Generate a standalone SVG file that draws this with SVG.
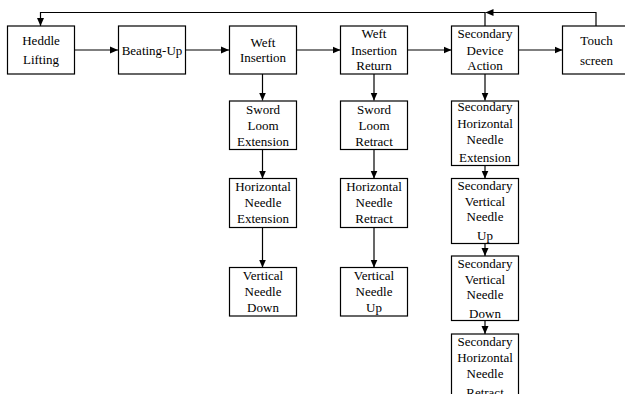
<svg xmlns="http://www.w3.org/2000/svg" width="625" height="394" viewBox="0 0 625 394">
<defs>
<marker id="ah" markerUnits="userSpaceOnUse" markerWidth="8" markerHeight="8" viewBox="0 0 8 8" refX="8" refY="4" orient="auto">
<path d="M0,0.5 L8,4 L0,7.5 Z" fill="#000"/>
</marker>
<style>
rect{fill:#fff;stroke:#000;stroke-width:1.2}
text{font-family:"Liberation Serif","Times New Roman",serif;font-size:13px;text-anchor:middle;fill:#000}
.c{fill:none;stroke:#000;stroke-width:1.2}
</style>
</defs>
<rect x="0" y="0" width="625" height="394" style="stroke:none"/>
<g id="connectors">
<path class="c" d="M74.5,50 H118" marker-end="url(#ah)"/>
<path class="c" d="M185.5,50 H229" marker-end="url(#ah)"/>
<path class="c" d="M296.5,50 H340.5" marker-end="url(#ah)"/>
<path class="c" d="M407.5,50 H451.5" marker-end="url(#ah)"/>
<path class="c" d="M518.5,50 H562.5" marker-end="url(#ah)"/>
<path class="c" d="M596,26 V12.5 H485.5" marker-end="url(#ah)"/>
<path class="c" d="M485,26 V12.5 H40.5 V26" marker-end="url(#ah)"/>
<path class="c" d="M262.5,74 V100.5" marker-end="url(#ah)"/>
<path class="c" d="M262.5,149.5 V178.5" marker-end="url(#ah)"/>
<path class="c" d="M262.5,227.5 V267.5" marker-end="url(#ah)"/>
<path class="c" d="M374,74 V100.5" marker-end="url(#ah)"/>
<path class="c" d="M374,149.5 V178.5" marker-end="url(#ah)"/>
<path class="c" d="M374,227.5 V267.5" marker-end="url(#ah)"/>
<path class="c" d="M485,74 V100.5" marker-end="url(#ah)"/>
<path class="c" d="M485,165.5 V178.5" marker-end="url(#ah)"/>
<path class="c" d="M485,243.5 V256" marker-end="url(#ah)"/>
<path class="c" d="M485,320.5 V334" marker-end="url(#ah)"/>
</g>
<g id="heddle-lifting"><rect x="7.5" y="26" width="67" height="48"/><text x="41" y="44.5">Heddle</text><text x="41" y="64">Lifting</text></g>
<g id="beating-up"><rect x="118.5" y="26" width="67" height="48"/><text x="152" y="55">Beating-Up</text></g>
<g id="weft-insertion"><rect x="229.5" y="26" width="67" height="48"/><text x="263" y="46.5">Weft</text><text x="263" y="62">Insertion</text></g>
<g id="weft-insertion-return"><rect x="340.5" y="26" width="67" height="48"/><text x="374" y="38">Weft</text><text x="374" y="54.5">Insertion</text><text x="374" y="70">Return</text></g>
<g id="secondary-device-action"><rect x="451.5" y="26" width="67" height="48"/><text x="485" y="38">Secondary</text><text x="485" y="54.5">Device</text><text x="485" y="70">Action</text></g>
<g id="touch-screen"><rect x="562.5" y="26" width="68" height="48"/><text x="596.5" y="44.5">Touch</text><text x="596.5" y="64.5">screen</text></g>
<g id="sword-loom-extension"><rect x="229.5" y="101" width="67" height="48.5"/><text x="263" y="113.5">Sword</text><text x="263" y="129.5">Loom</text><text x="263" y="145.5">Extension</text></g>
<g id="horizontal-needle-extension"><rect x="229.5" y="178.5" width="67" height="49"/><text x="263" y="191">Horizontal</text><text x="263" y="207">Needle</text><text x="263" y="222.5">Extension</text></g>
<g id="vertical-needle-down"><rect x="229.5" y="267.5" width="67" height="48.5"/><text x="263" y="280">Vertical</text><text x="263" y="296">Needle</text><text x="263" y="312">Down</text></g>
<g id="sword-loom-retract"><rect x="340.5" y="101" width="67" height="48.5"/><text x="374" y="113.5">Sword</text><text x="374" y="129.5">Loom</text><text x="374" y="145.5">Retract</text></g>
<g id="horizontal-needle-retract"><rect x="340.5" y="178.5" width="67" height="49"/><text x="374" y="191">Horizontal</text><text x="374" y="207">Needle</text><text x="374" y="222.5">Retract</text></g>
<g id="vertical-needle-up"><rect x="340.5" y="267.5" width="67" height="48.5"/><text x="374" y="280">Vertical</text><text x="374" y="296">Needle</text><text x="374" y="312">Up</text></g>
<g id="secondary-horizontal-needle-extension"><rect x="451.5" y="101" width="67" height="64.5"/><text x="485" y="111">Secondary</text><text x="485" y="127.5">Horizontal</text><text x="485" y="143.5">Needle</text><text x="485" y="162">Extension</text></g>
<g id="secondary-vertical-needle-up"><rect x="451.5" y="178.5" width="67" height="65"/><text x="485" y="189.5">Secondary</text><text x="485" y="205.5">Vertical</text><text x="485" y="221">Needle</text><text x="485" y="240">Up</text></g>
<g id="secondary-vertical-needle-down"><rect x="451.5" y="256" width="67" height="64.5"/><text x="485" y="267.5">Secondary</text><text x="485" y="283.5">Vertical</text><text x="485" y="299">Needle</text><text x="485" y="318">Down</text></g>
<g id="secondary-horizontal-needle-retract"><rect x="451.5" y="334" width="67" height="70"/><text x="485" y="346">Secondary</text><text x="485" y="362">Horizontal</text><text x="485" y="378">Needle</text><text x="485" y="397">Retract</text></g>
</svg>
